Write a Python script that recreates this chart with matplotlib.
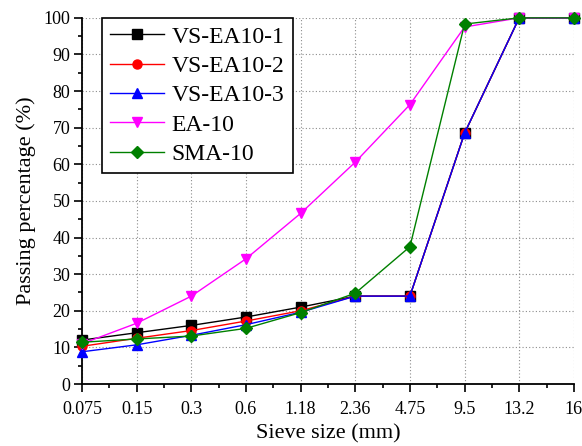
import numpy as np
import matplotlib
matplotlib.use("Agg")
import matplotlib.pyplot as plt
from matplotlib.ticker import MultipleLocator

# Sieve sizes (categorical x axis)
sieve_labels = ["0.075", "0.15", "0.3", "0.6", "1.18", "2.36", "4.75", "9.5", "13.2", "16"]

# Passing percentages
vs_ea10_1 = [12.0, 14.0, 16.0, 18.3, 21.0, 24.0, 24.0, 68.5, 100, 100]
vs_ea10_2 = [10.3, 12.5, 14.6, 17.2, 20.0, 24.0, 24.0, 68.5, 100, 100]
vs_ea10_3 = [8.8, 10.7, 13.3, 16.2, 19.6, 24.0, 24.0, 68.5, 100, 100]
ea_10 = [11.0, 16.6, 24.0, 34.2, 46.6, 60.6, 76.3, 97.5, 100, 100]
sma_10 = [11.4, 12.3, 13.1, 15.2, 19.5, 24.8, 37.5, 98.3, 100, 100]

plt.rcParams["font.family"] = ["Liberation Serif", "DejaVu Serif"]

fig = plt.figure(figsize=(5.82, 4.46), dpi=100)
ax = fig.add_axes([0.141, 0.139, 0.845, 0.821])

x = np.arange(len(sieve_labels))

ax.plot(x, vs_ea10_1, color="black", marker="s", markersize=6.5, linewidth=1, label="VS-EA10-1", clip_on=False, zorder=3)
ax.plot(x, vs_ea10_2, color="red", marker="o", markersize=6.5, linewidth=1, label="VS-EA10-2", clip_on=False, zorder=3)
ax.plot(x, vs_ea10_3, color="blue", marker="^", markersize=6.5, linewidth=1, label="VS-EA10-3", clip_on=False, zorder=3)
ax.plot(x, ea_10, color="magenta", marker="v", markersize=7.5, linewidth=1, label="EA-10", clip_on=False, zorder=3)
ax.plot(x, sma_10, color="green", marker="D", markersize=6.5, linewidth=1, label="SMA-10", clip_on=False, zorder=3)

ax.set_xlim(0, len(sieve_labels) - 1)
ax.set_ylim(0, 100)
ax.set_xticks(x)
ax.set_xticklabels(sieve_labels)
ax.xaxis.set_minor_locator(MultipleLocator(0.5))
ax.yaxis.set_major_locator(MultipleLocator(10))
ax.yaxis.set_minor_locator(MultipleLocator(5))
ax.tick_params(which="both", direction="out", labelsize=13, width=1.2)
ax.tick_params(which="major", length=5.5, pad=3)
ax.tick_params(axis="x", which="major", pad=7)
ax.tick_params(which="minor", length=3)

ax.grid(True, which="major", linestyle=(0, (1, 2)), color="#8c8c8c", linewidth=0.8)
ax.spines["top"].set_visible(False)
ax.spines["right"].set_visible(False)
for s in ["left", "bottom"]:
    ax.spines[s].set_linewidth(1.3)

ax.set_xlabel("Sieve size (mm)", fontsize=16, labelpad=4)
ax.set_ylabel("Passing percentage (%)", fontsize=16, labelpad=5)

leg = ax.legend(loc="upper left", bbox_to_anchor=(0.04, 1.0), borderaxespad=0, fontsize=17,
                frameon=True, fancybox=False, edgecolor="black", framealpha=1,
                handlelength=2.3, handletextpad=0.3, borderpad=0.35, labelspacing=0.33)
leg.get_frame().set_linewidth(1.2)

fig.savefig("out.png", dpi=100)
